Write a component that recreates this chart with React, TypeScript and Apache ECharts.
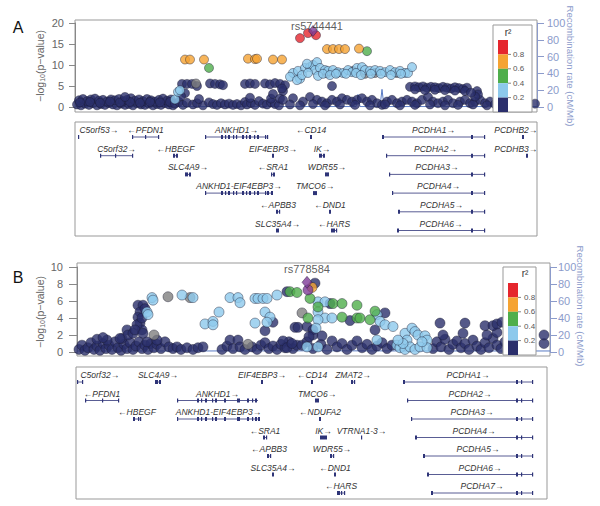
import React, { useEffect, useRef } from "react";
import * as echarts from "echarts";

// ---------- Panel A : position (kb from left edge of region), -log10(p) ----------
const aNavy: number[][] = [
  [2,0.6],[6,0.4],[10,0.8],[14,0.5],[18,0.9],[22,0.4],[26,0.7],[30,0.5],[34,0.9],[38,0.6],[42,0.4],[46,0.8],[50,0.5],[54,0.7],[58,0.4],[62,0.9],[66,0.6],[70,0.5],[74,0.8],[78,0.4],[82,0.7],[86,0.5],[90,0.9],[94,0.6],[98,0.4],
  [4,1.6],[8,1.9],[12,1.4],[16,1.8],[20,2.0],[24,1.5],[28,1.7],[32,1.3],[36,1.8],[40,1.6],[44,1.9],[48,1.4],[52,1.7],[56,2.1],[60,1.5],[64,1.8],[68,1.4],[72,1.9],[76,1.6],[80,1.3],[84,1.7],[88,2.0],[92,1.5],[96,1.8],
  [5,1.1],[15,1.2],[25,1.0],[35,1.3],[45,1.1],[55,1.2],[65,1.0],[75,1.2],[85,1.1],[95,1.2],[50,2.4],
  [100,0.8],[104,1.2],[108,0.5],[112,1.0],[118,0.6],[122,0.9],[128,0.4],[134,1.1],[138,0.7],[142,0.5],[146,0.9],[150,0.6],[154,0.8],[158,0.5],[162,0.7],[166,0.4],[170,1.2],[172,0.6],[176,0.9],[180,0.5],[184,1.4],[188,0.8],[192,0.6],[196,1.1],[200,0.7],[204,0.4],[124,1.9],[175,2.2],[196,2.0],
  [107,5.5],[112,5.5],[117,5.5],[122,5.0],[135,5.6],[140,5.5],[145,5.4],[148,5.2],[170,5.5],[175,5.6],[180,5.5],[190,5.6],[195,5.4],[200,5.7],[205,5.5],[210,5.2],[198,3.1],[208,3.8],[207,4.4],[205,2.0],[110,3.3],[106,2.6],[257,5.0],
  [208,1.7],[218,2.1],[228,1.3],[235,2.4],[242,1.7],[247,1.3],[252,0.9],[257,1.7],[262,1.3],[267,2.1],[272,1.7],[277,1.3],[282,1.7],[287,2.1],[292,1.3],[297,1.7],[302,0.9],[307,0.5],[312,1.3],[317,1.7],[322,0.9],[327,1.3],[332,1.7],[337,1.3],[342,0.9],[347,1.7],[353,2.4],[358,1.3],[363,0.9],[368,1.3],[373,1.7],[378,0.9],[385,1.3],[390,1.7],[395,0.9],[400,1.3],[405,1.7],[410,0.9],[415,1.3],
  [215,0.6],[225,0.4],[238,0.7],[250,0.4],[265,0.6],[280,0.5],[295,0.4],[310,0.6],[325,0.4],[340,0.5],[355,0.6],[370,0.4],[383,0.5],[398,0.6],[412,0.4],[420,0.7],[425,1.0],[428,0.5],[460,0.8],
  [335,4.8],[340,4.9],[344,4.7],[348,4.9],[352,4.6],[356,4.8],[360,4.7],[364,4.5],[368,4.8],[372,4.6],[376,4.4],[380,4.7],[384,4.5],[388,4.3],[392,4.6],[340,4.2],[350,4.0],[360,4.1],[370,4.0],[380,3.9],[390,3.8],[402,3.8],[403,3.0],[400,2.5],[396,3.4],
];
const aGray: number[][] = [[121,5.6],[262,8.1],[278,8.6],[300,8.1],[322,8.1],[252,8.0],[290,7.9]];
const aLightBlue: number[][] = [
  [100,1.8],[103,3.6],[105,4.0],
  [218,8.1],[223,8.6],[225,6.7],[230,9.3],[235,9.5],[238,10.0],[242,10.7],[240,8.8],[245,9.3],[250,8.8],[253,8.6],[258,8.8],[263,8.3],[268,8.1],[273,8.8],[277,8.3],[282,9.3],[287,9.5],[290,8.8],[295,8.6],[300,8.8],[305,8.6],[310,8.3],[315,8.8],[320,8.3],[325,8.6],[330,8.1],[333,8.1],[337,9.5],
  [215,7.2],[222,6.4],[227,7.6],[233,8.1],[243,7.4],[248,7.9],[255,7.6],[261,7.9],[271,7.9],[281,8.1],[286,7.6],[296,7.9],[306,7.9],[316,7.6],[326,7.9],[232,10.3],
];
const aGreen: number[][] = [[134,9.3],[292,13.3]];
const aOrange: number[][] = [[110,11.3],[115,11.3],[129,11.3],[173,11.5],[180,11.4],[182,11.5],[198,11.3],[207,11.3],[252,13.8],[258,13.8],[264,13.8],[270,13.8],[284,13.9]];
const aRed: number[][] = [[225,16.4],[233,17.6],[241,17.1]];
const aLead: number[][] = [[238,18.1]];
const aLeadName = "rs5744441";
const aRecomb: number[][] = [[0,0.5],[150,0.5],[281,0.5],[283,15],[285,0.5],[305,0.5],[307,21],[309,0.5],[462,0.5]];

const aGeneNames = ["C5orf53","PFDN1","ANKHD1","CD14","PCDHA1","PCDHB2","C5orf32","HBEGF","EIF4EBP3","IK","PCDHA2","PCDHB3","SLC4A9","SRA1","WDR55","PCDHA3","ANKHD1-EIF4EBP3","TMCO6","PCDHA4","APBB3","DND1","PCDHA5","SLC35A4","HARS","PCDHA6"];
const aGeneStart = [3,57,130,235,307,447,25,98,197,244,311,451,110,196,250,314,130,238,317,201,254,323,201,256,322];
const aGeneEnd =   [4,84,193,237,410,449,58,103,199,250,410,453,116,200,254,410,198,242,410,205,256,410,204,262,410];
const aGeneRow =   [0,0,0,0,0,0,1,1,1,1,1,1,2,2,2,2,3,3,3,4,4,4,5,5,5];
const aGeneStrand = [1,-1,1,-1,1,1,1,-1,1,1,1,1,1,-1,1,1,1,1,1,-1,-1,1,1,-1,1];
const aGeneExons: number[][][] = [
  [[3,4]],[[57,58],[70,71],[83,84]],
  [[130,131],[146,148],[150,151],[153,155],[158,159],[161,162],[167,169],[171,172],[174,176],[179,180],[182,184],[190,191],[192,193]],
  [[235,237]],[[307,309],[396,398],[409,410]],[[447,449]],
  [[25,26],[40,41],[57,58]],[[98,100],[101,103]],[[197,199]],[[244,247],[248,250]],[[311,312],[396,398],[409,410]],[[451,453]],
  [[110,113],[114,116]],[[196,197],[198,200]],[[250,254]],[[314,315],[396,398],[409,410]],
  [[130,131],[146,148],[150,151],[153,155],[158,159],[161,162],[167,169],[171,172],[174,176],[179,180],[182,184],[190,191],[192,194],[196,198]],
  [[238,242]],[[317,318],[396,398],[409,410]],
  [[201,203],[204,205]],[[254,256]],[[323,325],[396,398],[409,410]],
  [[201,204]],[[256,260],[261,262]],[[322,324],[396,398],[409,410]],
];

// ---------- Panel B ----------
const bNavy: number[][] = [
  [2,0.3],[5,0.8],[8,0.2],[11,0.5],[14,1.1],[17,0.3],[20,0.7],[23,0.2],[26,1.0],[29,0.4],[32,0.8],[35,0.3],[38,1.2],[41,0.5],[44,0.2],[47,0.9],[50,0.4],[53,1.1],[56,0.3],[59,0.7],[62,1.2],[65,0.4],[68,0.8],[71,0.3],[74,1.0],[77,0.5],[80,0.9],[84,0.4],[88,1.2],[92,0.6],
  [20,1.5],[30,1.4],[26,1.7],[45,1.6],
  [61,5.5],[66,5.5],[63,4.7],[61,4.1],[63,3.4],[65,2.6],[60,3.2],[50,2.6],[51,2.0],[43,1.6],[56,2.2],[70,1.2],[80,1.4],[68,5.1],[65,4.0],[58,2.6],[66,2.2],
  [96,0.4],[100,0.6],[104,0.3],[110,0.5],[116,0.3],[121,0.5],[126,0.6],[145,0.3],[150,0.7],[153,1.4],[156,0.4],[161,1.4],[163,0.6],[168,0.3],[175,0.6],[180,0.3],[184,0.8],[188,1.1],[192,0.4],[196,0.7],[200,0.3],[204,0.9],[208,0.5],[212,1.2],[216,0.4],[220,0.8],
  [188,2.5],[196,3.5],[218,2.9],[221,2.9],[210,7.1],[238,8.1],[253,5.7],
  [206,1.3],[210,0.5],[215,1.0],[225,0.8],[230,1.2],[236,0.4],[244,0.9],[250,0.3],[255,1.3],[260,0.6],[265,1.0],[270,0.3],[275,0.8],[280,1.3],[285,0.5],[290,0.9],[295,0.3],[300,0.7],[305,1.1],[310,0.4],[315,0.8],
  [230,3.0],[236,2.6],[236,2.0],[273,3.7],[298,2.6],[308,4.6],[232,1.8],[245,1.9],
  [356,0.4],[360,1.2],[364,0.6],[368,1.5],[372,0.3],[376,0.9],[380,1.3],[384,0.5],[388,1.0],[392,0.3],[396,1.4],[400,0.7],[404,0.3],[408,1.1],[412,0.5],[416,1.6],[420,0.8],[424,0.4],[428,1.2],[366,2.0],[386,2.2],[410,2.0],[420,2.3],
  [363,3.4],[388,3.4],[408,3.1],[416,3.1],[420,3.3],[425,3.5],[467,1.0],[467,2.0],
];
const bGray: number[][] = [[91,6.5],[113,6.4],[77,2.0],[171,0.9],[225,4.6]];
const bLightBlue: number[][] = [
  [75,6.4],[76,6.1],[70,4.7],[71,4.4],[105,6.7],[116,6.4],[128,3.3],[136,3.6],[136,3.2],[142,4.7],[153,6.4],[161,6.4],[163,5.8],[178,3.4],[178,6.3],[181,6.3],[186,6.3],[190,6.3],[188,4.7],[193,4.1],[190,3.5],[200,6.7],
  [241,5.9],[248,5.9],[241,4.7],[248,4.0],[255,4.0],[241,3.8],[230,0.6],[241,0.6],[239,2.8],
  [300,4.4],[303,3.6],[308,3.2],[316,3.0],[300,1.4],
  [328,2.2],[335,2.8],[338,2.4],[341,2.0],[348,1.9],[330,1.4],[350,1.4],[320,0.8],[323,0.5],[328,0.3],[333,0.6],[338,0.3],[343,0.6],[350,0.5],[326,1.0],[321,1.4],[345,1.2],
];
const bGreen: number[][] = [[213,7.1],[220,7.0],[233,6.3],[241,5.3],[231,4.0],[256,5.7],[265,5.7],[280,5.5],[265,4.1],[280,4.0],[283,4.0],[293,3.8],[298,4.8]];
const bOrange: number[][] = [[235,7.6]];
const bPurple: number[][] = [[231,7.3]];
const bLead: number[][] = [[230,8.2]];
const bLeadName = "rs778584";
const bRecomb: number[][] = [[0,1.2],[120,1.2],[240,1.4],[360,1.2],[473,1.2]];

const bGeneNames = ["C5orf32","SLC4A9","EIF4EBP3","CD14","ZMAT2","PCDHA1","PFDN1","ANKHD1","TMCO6","PCDHA2","HBEGF","ANKHD1-EIF4EBP3","NDUFA2","PCDHA3","SRA1","IK","VTRNA1-3","PCDHA4","APBB3","WDR55","PCDHA5","SLC35A4","DND1","PCDHA6","HARS","PCDHA7"];
const bGeneStart = [0,78,184,234,274,326,8,100,238,330,56,100,242,334,186,243,284,338,190,253,346,195,257,350,260,354];
const bGeneEnd =   [6,84,186,236,278,456,42,181,242,456,64,183,244,456,190,250,285,456,194,257,456,197,259,456,268,456];
const bGeneRow =   [0,0,0,0,0,0,1,1,1,1,2,2,2,2,3,3,3,3,4,4,4,5,5,5,6,6];
const bGeneStrand = [1,1,1,-1,1,1,-1,1,1,1,-1,1,-1,1,-1,1,1,1,-1,1,1,1,-1,1,-1,1];
const bAnk = [[100,101],[120,122],[124,125],[128,130],[135,136],[138,140],[147,149],[160,163],[170,172],[175,176],[178,180]];
const bGeneExons: number[][][] = [
  [[0,1],[5,6]],[[78,81],[82,84]],[[184,186]],[[234,236]],[[274,276],[277,278]],[[326,328],[439,441],[444,445],[455,456]],
  [[8,9],[25,26],[41,42]],bAnk,[[238,242]],[[330,331],[439,441],[444,445],[455,456]],
  [[56,58],[61,62],[63,64]],[...bAnk,[181,183]],[[242,244]],[[334,335],[439,441],[444,445],[455,456]],
  [[186,188],[189,190]],[[243,250]],[[284,285]],[[338,340],[439,441],[444,445],[455,456]],
  [[190,192],[193,194]],[[253,255],[256,257]],[[346,348],[439,441],[444,445],[455,456]],
  [[195,197]],[[257,259]],[[350,352],[439,441],[444,445],[455,456]],
  [[260,263],[264,265],[267,268]],[[354,356],[439,441],[444,445],[455,456]],
];

const r2Labels = ["0.8", "0.6", "0.4", "0.2"];
const leftTitle = "\u2212log{sub|10}(p\u2212value)";
const rightTitle = "Recombination rate (cM/Mb)";

const C = {
  navy: "#2B2F6C",
  lightblue: "#8DC9EC",
  green: "#4FAE4B",
  orange: "#F5A332",
  red: "#E5262D",
  gray: "#808080",
  purple: "#7E3B97",
  recomb: "#5A7BC4",
  recAxis: "#8C9BCB",
  gene: "#2E3478",
};
const FONT = "Liberation Sans";

function geneRenderer(names: string[], exons: number[][][]) {
  return (params: any, api: any) => {
    const i = api.value(4);
    const row = api.value(2);
    const strand = api.value(3);
    const p0 = api.coord([api.value(0), row]);
    const p1 = api.coord([api.value(1), row]);
    const cs = params.coordSys;
    const top = p0[1];
    const ly = top + 15;
    const ty = top + 8;
    const children: any[] = [];
    children.push({
      type: "line",
      shape: { x1: p0[0], y1: ly, x2: Math.max(p1[0], p0[0] + 1), y2: ly },
      style: { stroke: C.gene, lineWidth: 0.8 },
    });
    for (const ex of exons[i]) {
      const xa = api.coord([ex[0], row])[0];
      const xb = api.coord([ex[1], row])[0];
      children.push({
        type: "rect",
        shape: { x: xa, y: ly - 2, width: Math.max(xb - xa, 1.2), height: 4 },
        style: { fill: C.gene },
      });
    }
    const label = strand > 0 ? names[i] + "\u2192" : "\u2190" + names[i];
    const tw = label.length * 5.2;
    let cx = (p0[0] + p1[0]) / 2;
    cx = Math.max(cs.x + 3 + tw / 2, Math.min(cs.x + cs.width - 3 - tw / 2, cx));
    children.push({
      type: "text",
      style: {
        text: label, x: cx, y: ty, align: "center", verticalAlign: "middle",
        font: `italic 8.5px "${FONT}"`, fill: "#333",
      },
    });
    return { type: "group", children };
  };
}

function geneData(start: number[], end: number[], row: number[], strand: number[]) {
  return start.map((s, i) => [s, end[i], row[i], strand[i], i]);
}

function scatter(name: string, data: number[][], color: string, xi: number, yi: number, size: any, extra: any = {}) {
  return {
    type: "scatter", name, data, xAxisIndex: xi, yAxisIndex: yi, symbolSize: size, clip: false,
    itemStyle: { color, borderColor: "rgba(25,25,45,0.75)", borderWidth: 0.7 },
    ...extra,
  };
}

function legend(x: number, y: number, w: number, h: number, barX: number, barTop: number, barW: number, labelX: number, r2X: number, r2Y: number) {
  const cols = [C.red, C.orange, C.green, C.lightblue, C.navy];
  const seg = (y + h - barTop) / 5;
  const els: any[] = [
    { type: "rect", z: 100, shape: { x, y, width: w, height: h }, style: { fill: "#fff", stroke: "#999", lineWidth: 1 } },
    { type: "text", z: 101, style: { text: "r\u00B2", x: r2X, y: r2Y, align: "center", verticalAlign: "middle", font: `10px "${FONT}"`, fill: "#333" } },
  ];
  cols.forEach((c, k) => {
    els.push({ type: "rect", z: 101, shape: { x: barX, y: barTop + k * seg, width: barW, height: seg }, style: { fill: c } });
  });
  r2Labels.forEach((t, k) => {
    const yy = barTop + (k + 1) * seg;
    els.push({ type: "line", z: 101, shape: { x1: barX + barW, y1: yy, x2: barX + barW + 3, y2: yy }, style: { stroke: "#666", lineWidth: 0.8 } });
    els.push({ type: "text", z: 101, style: { text: t, x: labelX, y: yy, align: "left", verticalAlign: "middle", font: `8px "${FONT}"`, fill: "#555" } });
  });
  return els;
}

function leftTitleEl(x: number, y: number) {
  return {
    type: "text", x, y, rotation: Math.PI / 2,
    style: {
      text: leftTitle, align: "center", verticalAlign: "middle", fill: "#666",
      font: `10.5px "${FONT}"`,
      rich: { sub: { fontSize: 7, fill: "#666", fontFamily: FONT, padding: [5, 0, 0, 0] } },
    },
  };
}
function rightTitleEl(x: number, y: number) {
  return {
    type: "text", x, y, rotation: -Math.PI / 2,
    style: { text: rightTitle, align: "center", verticalAlign: "middle", fill: C.recAxis, font: `9.6px "${FONT}"` },
  };
}

export default function App() {
  const ref = useRef<HTMLDivElement>(null);
  useEffect(() => {
    if (!ref.current) return;
    const chart = echarts.init(ref.current, undefined, { renderer: "svg" });
    const leftAxisCommon = {
      axisLine: { show: true, lineStyle: { color: "#888" } },
      axisTick: { show: true, length: 6, lineStyle: { color: "#888" } },
      axisLabel: { color: "#666", fontSize: 11, fontFamily: FONT, margin: 11 },
      splitLine: { show: false },
    };
    const rightAxisCommon = {
      position: "right",
      min: 0, max: 100, interval: 20,
      axisLine: { show: true, lineStyle: { color: C.recAxis } },
      axisTick: { show: true, length: 7, lineStyle: { color: C.recAxis } },
      axisLabel: { color: C.recAxis, fontSize: 11, fontFamily: FONT, margin: 10 },
      splitLine: { show: false },
    };
    const hidden = { show: false, min: 0, max: 1 };
    const option: any = {
      animation: false,
      textStyle: { fontFamily: FONT },
      grid: [
        { left: 75, top: 23, width: 462, height: 84 },
        { left: 75, top: 20, width: 462, height: 92, show: true, borderColor: "#999", borderWidth: 1, backgroundColor: "transparent" },
        { left: 75, top: 122, width: 462, height: 114, show: true, borderColor: "#999", borderWidth: 1, backgroundColor: "transparent" },
        { left: 77, top: 267, width: 473, height: 85 },
        { left: 77, top: 263, width: 473, height: 93, show: true, borderColor: "#999", borderWidth: 1, backgroundColor: "transparent" },
        { left: 76, top: 367, width: 471, height: 132, show: true, borderColor: "#999", borderWidth: 1, backgroundColor: "transparent" },
      ],
      xAxis: [
        { type: "value", gridIndex: 0, min: 0, max: 462, show: false },
        { type: "value", gridIndex: 1, ...hidden },
        { type: "value", gridIndex: 2, min: 0, max: 462, show: false },
        { type: "value", gridIndex: 3, min: 0, max: 473, show: false },
        { type: "value", gridIndex: 4, ...hidden },
        { type: "value", gridIndex: 5, min: -1, max: 470, show: false },
      ],
      yAxis: [
        { type: "value", gridIndex: 0, min: 0, max: 20, interval: 5, ...leftAxisCommon },
        { type: "value", gridIndex: 0, ...rightAxisCommon },
        { type: "value", gridIndex: 1, ...hidden },
        { type: "value", gridIndex: 2, min: 0, max: 114 / 18.7, inverse: true, show: false },
        { type: "value", gridIndex: 3, min: 0, max: 10, interval: 2, ...leftAxisCommon,
          axisTick: { show: true, length: 8, lineStyle: { color: "#888" } },
          axisLabel: { color: "#666", fontSize: 11, fontFamily: FONT, margin: 14 } },
        { type: "value", gridIndex: 3, ...rightAxisCommon,
          axisLabel: { color: C.recAxis, fontSize: 11, fontFamily: FONT, margin: 8 } },
        { type: "value", gridIndex: 4, ...hidden },
        { type: "value", gridIndex: 5, min: 0, max: 132 / 18.5, inverse: true, show: false },
      ],
      series: [
        { type: "line", data: aRecomb, xAxisIndex: 0, yAxisIndex: 1, symbol: "none", lineStyle: { color: C.recomb, width: 1 }, z: 1 },
        scatter("aNavy", aNavy, C.navy, 0, 0, 9),
        scatter("aGray", aGray, C.gray, 0, 0, 9),
        scatter("aLightBlue", aLightBlue, C.lightblue, 0, 0, 9),
        scatter("aGreen", aGreen, C.green, 0, 0, 9),
        scatter("aOrange", aOrange, C.orange, 0, 0, 9),
        scatter("aRed", aRed, C.red, 0, 0, 9),
        scatter("aLead", aLead, C.purple, 0, 0, [9, 11], {
          symbol: "diamond",
          label: { show: true, position: "top", distance: 0, offset: [4, 6], formatter: aLeadName, color: "#333", fontSize: 11, fontFamily: FONT },
        }),
        {
          type: "custom", xAxisIndex: 2, yAxisIndex: 3, clip: false,
          renderItem: geneRenderer(aGeneNames, aGeneExons),
          data: geneData(aGeneStart, aGeneEnd, aGeneRow, aGeneStrand),
        },
        { type: "line", data: bRecomb, xAxisIndex: 3, yAxisIndex: 5, symbol: "none", lineStyle: { color: C.recomb, width: 1 }, z: 1 },
        scatter("bNavy", bNavy, C.navy, 3, 4, 10),
        scatter("bGray", bGray, C.gray, 3, 4, 10),
        scatter("bLightBlue", bLightBlue, C.lightblue, 3, 4, 10),
        scatter("bGreen", bGreen, C.green, 3, 4, 10),
        scatter("bOrange", bOrange, C.orange, 3, 4, 10),
        scatter("bPurple", bPurple, C.purple, 3, 4, 10),
        scatter("bLead", bLead, C.purple, 3, 4, [10, 12], {
          symbol: "diamond",
          label: { show: true, position: "top", distance: 1, formatter: bLeadName, color: "#333", fontSize: 11, fontFamily: FONT },
        }),
        {
          type: "custom", xAxisIndex: 5, yAxisIndex: 7, clip: false,
          renderItem: geneRenderer(bGeneNames, bGeneExons),
          data: geneData(bGeneStart, bGeneEnd, bGeneRow, bGeneStrand),
        },
      ],
      graphic: [
        { type: "text", style: { text: "A", x: 18, y: 27, align: "center", verticalAlign: "middle", font: `16px "${FONT}"`, fill: "#111" } },
        { type: "text", style: { text: "B", x: 18, y: 277, align: "center", verticalAlign: "middle", font: `16px "${FONT}"`, fill: "#111" } },
        leftTitleEl(40, 66),
        leftTitleEl(40, 312),
        rightTitleEl(570, 66),
        rightTitleEl(580, 306),
        ...legend(493, 25, 39, 87, 498, 40, 10, 513, 508, 32),
        ...legend(503, 267, 33, 88, 508, 283, 10, 524, 525, 273),
      ],
    };
    chart.setOption(option);
    return () => chart.dispose();
  }, []);
  return <div ref={ref} style={{ position: "absolute", left: 0, top: 0, width: 600, height: 506 }} />;
}
